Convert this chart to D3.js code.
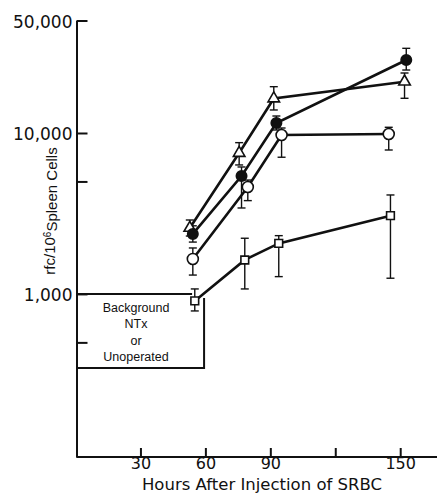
<!DOCTYPE html>
<html>
<head>
<meta charset="utf-8">
<script src="https://cdn.jsdelivr.net/npm/d3@7"></script>
<style>
  body { margin: 0; background: #fff; }
  svg { display: block; }
  .tick text { font-family: "DejaVu Sans", sans-serif; font-size: 17px; fill: #111; }
  .x-axis .tick text { font-size: 16px; }
  .domain, .tick line { stroke: #111; stroke-width: 2; }
</style>
</head>
<body>
<svg id="chart" width="437" height="493"></svg>
<script>
// hours after injection, rfc per 10^6 spleen cells (value, upper, lower)
const triHours = [52.8, 75.6, 91.6, 152];
const triRfc   = [2570, 7510, 16380, 20830];
const triHi    = [2880, 8710, 19400, 23590];
const triLo    = [2290, 6330, 13900, 16430];

const dotHours = [54.2, 76.7, 92.8, 152.8];
const dotRfc   = [2360, 5400, 11540, 28400];
const dotHi    = [2650, 6150, 12750, 33580];
const dotLo    = [2100, 3420, 10440, 24620];

const ringHours = [54.2, 79.6, 95.2, 144.7];
const ringRfc   = [1650, 4620, 9720, 9860];
const ringHi    = [1930, 5100, 10740, 10850];
const ringLo    = [1310, 3800, 7070, 7840];

const sqHours = [55.1, 78.2, 93.9, 145.5];
const sqRfc   = [905, 1626, 2060, 3064];
const sqHi    = [1074, 2218, 2302, 4120];
const sqLo    = [784, 1074, 1281, 1252];

const bgHours = [0, 59.4];
const bgRfc = [347, 1000];
const bgText = ["Background", "NTx", "or", "Unoperated"];

const xTicks = [30, 60, 90, 120, 150];
const xLabels = ["30", "60", "90", "", "150"];
const yTicks = [500, 1000, 5000, 10000, 50000];
const yLabels = ["", "1,000", "", "10,000", "50,000"];

const svg = d3.select("#chart");
const x = d3.scaleLinear().domain([0, 167]).range([75.5, 437]);
const y = d3.scaleLog().domain([97, 50000]).range([457, 20.5]);
const axisX = 76.5;

svg.append("g")
  .attr("transform", `translate(${axisX},0)`)
  .call(d3.axisLeft(y).tickValues(yTicks).tickSize(-11).tickSizeOuter(0).tickPadding(4)
    .tickFormat((d, i) => yLabels[i]))
  .call(g => g.selectAll(".tick text").attr("dy", "0.4em"));

svg.append("g")
  .attr("class", "x-axis")
  .attr("transform", `translate(0,${y(97)})`)
  .call(d3.axisBottom(x).tickValues(xTicks).tickSize(-9).tickSizeOuter(0).tickPadding(2)
    .tickFormat((d, i) => xLabels[i]))
  .call(g => g.select(".domain").attr("d", `M${axisX},0H437`))
  .call(g => g.selectAll(".tick text").attr("dy", "0.62em"));

svg.append("text")
  .attr("x", 262).attr("y", 490)
  .attr("text-anchor", "middle")
  .style("font-family", "DejaVu Sans, sans-serif")
  .style("font-size", "16.5px")
  .style("fill", "#111")
  .text("Hours After Injection of SRBC");

const yTitle = svg.append("text")
  .attr("transform", "translate(55,211) rotate(-90)")
  .attr("text-anchor", "middle")
  .style("font-family", "Liberation Sans, sans-serif")
  .style("font-size", "15px")
  .style("fill", "#111");
yTitle.append("tspan").text("rfc/10");
yTitle.append("tspan").attr("dy", "-0.45em").style("font-size", "10px").text("6");
yTitle.append("tspan").attr("dy", "0.45em").text("Spleen Cells");

// background box
svg.append("path")
  .attr("d", `M${axisX},${y(bgRfc[1])}H${x(bgHours[1]) - 12}` +
    `M${x(bgHours[1])},${y(bgRfc[1]) + 4}V${y(bgRfc[0])}H${axisX}`)
  .attr("fill", "none")
  .attr("stroke", "#111")
  .attr("stroke-width", 2);

svg.append("g")
  .selectAll("text")
  .data(bgText)
  .join("text")
  .attr("x", 136)
  .attr("y", (d, i) => 312 + i * 16.3)
  .attr("text-anchor", "middle")
  .style("font-family", "Liberation Sans, sans-serif")
  .style("font-size", "12.5px")
  .style("fill", "#111")
  .text(d => d);

const series = [
  {hours: triHours, rfc: triRfc, hi: triHi, lo: triLo, mark: "tri"},
  {hours: dotHours, rfc: dotRfc, hi: dotHi, lo: dotLo, mark: "dot"},
  {hours: ringHours, rfc: ringRfc, hi: ringHi, lo: ringLo, mark: "ring"},
  {hours: sqHours, rfc: sqRfc, hi: sqHi, lo: sqLo, mark: "sq"},
].map(s => ({...s, pts: s.hours.map((h, i) => ({h, v: s.rfc[i], hi: s.hi[i], lo: s.lo[i]}))}));

const line = d3.line().x(d => x(d.h)).y(d => y(d.v));

svg.append("g")
  .selectAll("path")
  .data(series)
  .join("path")
  .attr("d", s => line(s.pts))
  .attr("fill", "none")
  .attr("stroke", "#111")
  .attr("stroke-width", 2.6);

const bars = svg.append("g")
  .attr("stroke", "#111")
  .attr("stroke-width", 1.4)
  .selectAll("g")
  .data(series.flatMap(s => s.pts))
  .join("g");
bars.append("line")
  .attr("x1", d => x(d.h)).attr("x2", d => x(d.h))
  .attr("y1", d => y(d.hi)).attr("y2", d => y(d.lo));
bars.append("line")
  .attr("x1", d => x(d.h) - 4).attr("x2", d => x(d.h) + 4)
  .attr("y1", d => y(d.hi)).attr("y2", d => y(d.hi));
bars.append("line")
  .attr("x1", d => x(d.h) - 4).attr("x2", d => x(d.h) + 4)
  .attr("y1", d => y(d.lo)).attr("y2", d => y(d.lo));

const shapes = {
  tri: d3.symbol(d3.symbolTriangle, 58)(),
  dot: d3.symbol(d3.symbolCircle, 85)(),
  ring: d3.symbol(d3.symbolCircle, 95)(),
  sq: d3.symbol(d3.symbolSquare, 60)(),
};

svg.append("g")
  .selectAll("g")
  .data(series)
  .join("g")
  .selectAll("path")
  .data(s => s.pts.map(p => ({...p, mark: s.mark})))
  .join("path")
  .attr("transform", d => `translate(${x(d.h)},${y(d.v)})`)
  .attr("d", d => shapes[d.mark])
  .attr("fill", d => d.mark === "dot" ? "#111" : "#fff")
  .attr("stroke", "#111")
  .attr("stroke-width", 1.6);
</script>
</body>
</html>
